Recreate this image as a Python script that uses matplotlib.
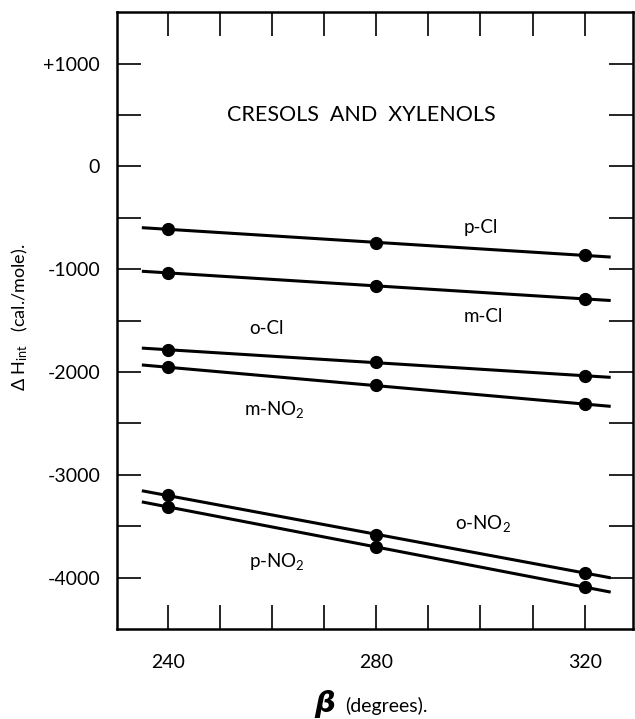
import numpy as np
import matplotlib
matplotlib.use("Agg")
import matplotlib.pyplot as plt

plt.rcParams['font.family'] = ['Lato', 'DejaVu Sans']
plt.rcParams['mathtext.fontset'] = 'custom'
plt.rcParams['mathtext.rm'] = 'Lato'
plt.rcParams['mathtext.it'] = 'Lato:italic'
plt.rcParams['mathtext.bf'] = 'Lato:bold'

# The data
beta = [240, 280, 320]
p_cl = [-607, -747, -861]
m_cl = [-1036, -1160, -1289]
o_cl = [-1784, -1906, -2037]
m_no2 = [-1955, -2128, -2313]
o_no2 = [-3200, -3580, -3953]
p_no2 = [-3310, -3704, -4090]

series = [p_cl, m_cl, o_cl, m_no2, o_no2, p_no2]
names = ["p-Cl", "m-Cl", "o-Cl", "m-NO$_2$", "o-NO$_2$", "p-NO$_2$"]
label_x = [300, 300.5, 259, 260.5, 300.5, 261]
label_y = [-590, -1455, -1580, -2360, -3470, -3840]

line_span = [235, 325]

fig = plt.figure(figsize=(6.35, 7.19), dpi=100)
ax = fig.add_axes([0.184, 0.125, 0.813, 0.858])

for vals, name, lx, ly in zip(series, names, label_x, label_y):
    k, b = np.polyfit(beta, vals, 1)
    xs = np.array(line_span)
    ax.plot(xs, k * xs + b, color="black", lw=2.2, solid_capstyle="butt")
    ax.plot(beta, vals, "o", color="black", ms=8.5)
    ax.text(lx, ly, name, fontsize=13.5, ha="center", va="center")

ax.text(277.2, 500, "CRESOLS  AND  XYLENOLS", fontsize=15.5, ha="center", va="center")

ax.set_xlim(230.2, 329.3)
ax.set_ylim(-4500, 1500)

ax.set_xticks(np.arange(240, 321, 10))
ax.set_xticklabels(["240", "", "", "", "280", "", "", "", "320"])
ax.set_yticks(np.arange(-4000, 1001, 500))
ax.set_yticklabels(["-4000", "", "-3000", "", "-2000", "", "-1000", "", "0", "", "+1000"])

ax.tick_params(direction="in", length=17, width=1.2, top=True, right=True,
               labelsize=14, pad=12)
ax.tick_params(axis="x", pad=18)
for s in ax.spines.values():
    s.set_linewidth(1.8)

ax.set_ylabel(r"$\Delta$ H$_{\mathrm{int}}$   (cal./mole).", fontsize=13)
ax.yaxis.set_label_coords(-0.168, 0.505)

fig.text(0.528, 0.002, "\u03b2", fontsize=21, fontweight="bold", style="italic",
         ha="right", va="bottom", family=['DejaVu Sans'])
fig.text(0.543, 0.006, "(degrees).", fontsize=14, ha="left", va="bottom")

fig.savefig("out.png", dpi=100)
